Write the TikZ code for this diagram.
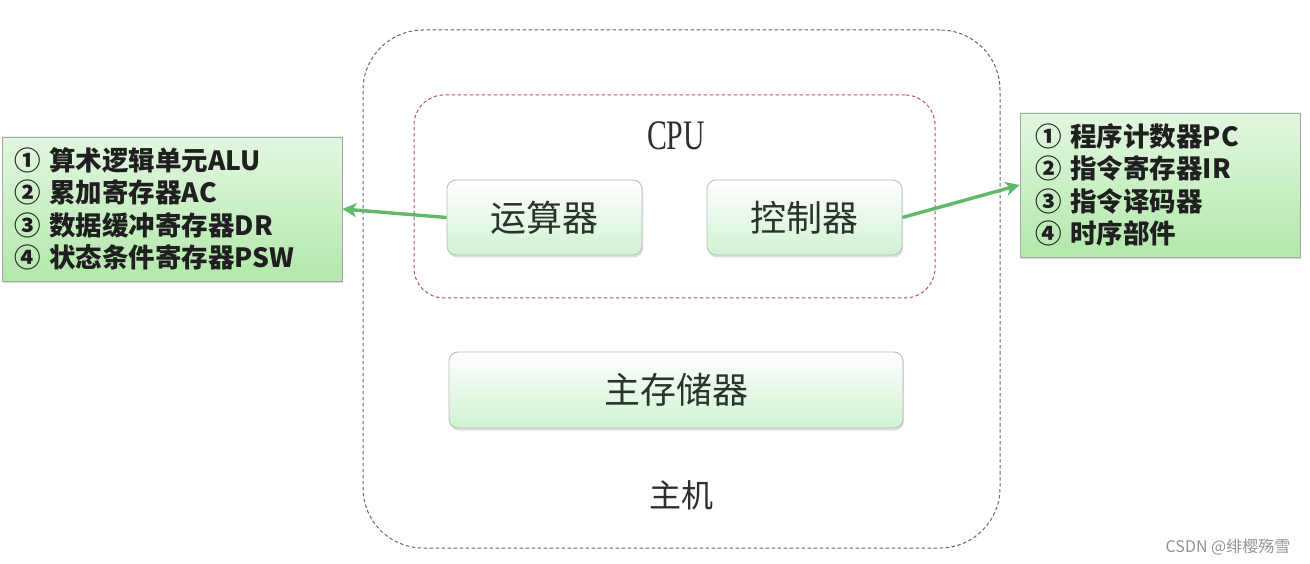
\documentclass[tikz,border=0pt]{standalone}
\usepackage{fontspec}
\newfontfamily\cjk{Noto Sans CJK SC}
\newfontfamily\serifl{Liberation Serif}
\usetikzlibrary{shadows,arrows.meta}
\definecolor{compgreen}{RGB}{208,242,210}
\definecolor{listtop}{RGB}{226,247,224}
\definecolor{listbot}{RGB}{178,232,170}
\definecolor{arrowgreen}{RGB}{95,185,105}
\definecolor{hostdash}{RGB}{90,105,135}
\definecolor{cpudash}{RGB}{190,80,100}
\definecolor{comptext}{RGB}{40,52,42}
\begin{document}
\begin{tikzpicture}[x=1pt,y=-1pt,
  comp/.style={draw=gray!55, line width=0.8pt, rounded corners=9pt,
    top color=white, bottom color=compgreen,
    minimum height=75pt, inner sep=0pt,
    font=\cjk\fontsize{36}{40}\selectfont, text=comptext,
    drop shadow={shadow xshift=1pt,shadow yshift=-2.5pt,opacity=0.25,fill=gray}},
  listbox/.style={draw=gray!70, line width=0.8pt,
    top color=listtop, bottom color=listbot,
    minimum height=144pt, align=left, inner ysep=0pt,
    font=\cjk\bfseries\fontsize{26.5}{32.5}\selectfont, text=black!88,
    drop shadow={shadow xshift=1pt,shadow yshift=-2.5pt,opacity=0.3,fill=gray}},
  hostbox/.style={draw=hostdash, line width=1pt, dash pattern=on 3.5pt off 2.5pt,
    rounded corners=60pt, inner sep=0pt},
  cpubox/.style={draw=cpudash, line width=1pt, dash pattern=on 3.5pt off 2.5pt,
    rounded corners=30pt, inner sep=0pt},
  garrow/.style={draw=arrowgreen, line width=3.4pt,
    -{Stealth[length=14pt,width=14pt,inset=4pt]}},
  label/.style={text=black!82, inner sep=0pt}
]
\useasboundingbox (0,0) rectangle (1310,564);
\fill[white] (0,0) rectangle (1310,564);

% containers
\node[hostbox, minimum width=637pt, minimum height=518pt] (host) at (681.5,289) {};
\node[cpubox, minimum width=521pt, minimum height=203pt] (cpu) at (674.5,196.5) {};

% labels
\node[label, font=\serifl\fontsize{42}{42}\selectfont] (cpulabel) at (676,136) {\scalebox{0.71}[1]{CPU}};
\node[label, font=\cjk\fontsize{32}{32}\selectfont] (hostlabel) at (681,495) {主机};

% components
\node[comp, minimum width=195pt] (alu) at (544.5,217.5) {运算器};
\node[comp, minimum width=195pt] (cu) at (804.5,217.5) {控制器};
\node[comp, minimum width=454pt, minimum height=76pt] (mem) at (676,390) {主存储器};

% side lists
\node[listbox, minimum width=340pt, text width=316pt, inner xsep=12pt] (alulist) at (172,209)
  {① 算术逻辑单元ALU\\② 累加寄存器AC\\③ 数据缓冲寄存器DR\\④ 状态条件寄存器PSW};
\node[listbox, minimum width=280pt, text width=250pt, inner xsep=15pt] (culist) at (1160,185)
  {① 程序计数器PC\\② 指令寄存器IR\\③ 指令译码器\\④ 时序部件};

% connectors
\draw[garrow] (alu.west) -- (alulist.east);
\draw[garrow] (cu.east) -- (culist.west);

% watermark
\node[text=gray!85, inner sep=0pt, font=\cjk\fontsize{16}{16}\selectfont] (wm) at (1228,547) {CSDN @绯樱殇雪};
\end{tikzpicture}
\end{document}
